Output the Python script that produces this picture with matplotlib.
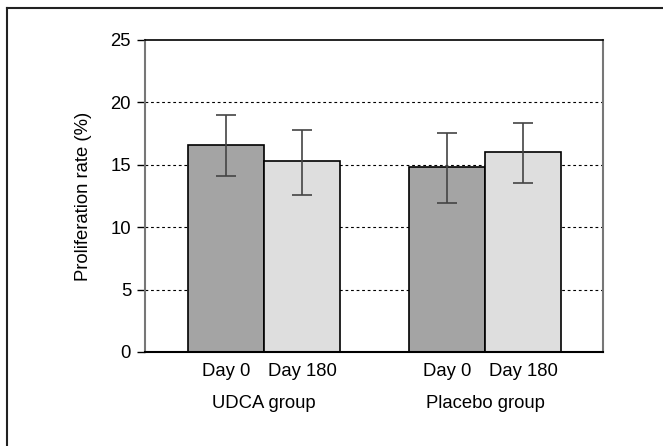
import matplotlib
matplotlib.use("Agg")
import matplotlib.pyplot as plt
from matplotlib.lines import Line2D

plt.rcParams['font.family'] = ['Liberation Sans', 'DejaVu Sans']

groups = ["UDCA group", "Placebo group"]
days = ["Day 0", "Day 180"]
means = [16.6, 15.3, 14.8, 16.05]
upper = [19.0, 17.8, 17.55, 18.35]
lower = [14.1, 12.6, 11.9, 13.55]
colors = ["#a4a4a4", "#dedede", "#a4a4a4", "#dedede"]

pos = [0, 1, 2.91, 3.91]
err = [[m - lo for m, lo in zip(means, lower)], [u - m for m, u in zip(means, upper)]]

fig = plt.figure(figsize=(6.63, 4.46), dpi=100)
ax = fig.add_axes([145 / 663, 1 - 352 / 446, 458 / 663, 312 / 446])

ax.bar(pos, means, width=1.0, color=colors, edgecolor="black", linewidth=1.2, zorder=2)
ax.errorbar(pos, means, yerr=err, fmt="none", ecolor="#444444", elinewidth=1.2,
            capsize=7, capthick=1.2, zorder=3)

ax.set_xlim(-1.07, 4.96)
ax.set_ylim(0, 25)
ax.set_yticks([0, 5, 10, 15, 20, 25])
for y in [5, 10, 15, 20]:
    ax.axhline(y, color="black", linestyle=(0, (2.5, 2.5)), linewidth=0.8, zorder=1)

ax.set_xticks(pos)
ax.set_xticklabels(days * 2)
ax.tick_params(axis="x", length=0, pad=8, labelsize=13.3)
ax.tick_params(axis="y", length=6, width=1, direction="out", labelsize=13.3, pad=4)
for i, g in enumerate(groups):
    ax.text((pos[2 * i] + pos[2 * i + 1]) / 2, -0.137, g, transform=ax.get_xaxis_transform(),
            ha="center", va="top", fontsize=13.3)

ax.set_ylabel("Proliferation rate (%)", fontsize=13.3, labelpad=13)

ax.spines["left"].set_color("#777777")
ax.spines["left"].set_linewidth(1.5)
ax.spines["right"].set_color("#777777")
ax.spines["right"].set_linewidth(1.5)
ax.spines["top"].set_linewidth(1.2)
ax.spines["bottom"].set_linewidth(1.5)

# outer frame (only top and left edges visible in the crop)
fig.add_artist(Line2D([7 / 663, 1], [1 - 7.5 / 446, 1 - 7.5 / 446], color="#222222", linewidth=1.5))
fig.add_artist(Line2D([7 / 663, 7 / 663], [0, 1 - 7.5 / 446], color="#222222", linewidth=1.5))

fig.savefig("out.png", dpi=100)
